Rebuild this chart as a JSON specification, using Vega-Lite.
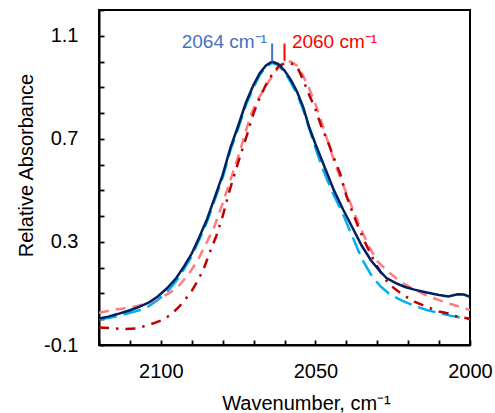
{
  "$schema": "https://vega.github.io/schema/vega-lite/v6.json",
  "width": 371,
  "height": 335,
  "autosize": "none",
  "padding": {"left": 99, "top": 10, "right": 25, "bottom": 68},
  "config": {
    "font": "Liberation Sans",
    "view": {"stroke": "black", "strokeWidth": 2},
    "axis": {
      "grid": false,
      "domainColor": "black",
      "domainWidth": 2,
      "tickColor": "black",
      "tickWidth": 1.8,
      "tickOpacity": 1,
      "labelColor": "black",
      "labelFontSize": 20,
      "titleColor": "black",
      "titleFontSize": 20,
      "titleFontWeight": "normal"
    }
  },
  "resolve": {"axis": {"x": "independent", "y": "independent"}},
  "datasets": {
    "spectra": [
      {"series": "L", "w": 2120, "v": 0.0}, {"series": "L", "w": 2117, "v": 0.005}, {"series": "L", "w": 2114, "v": 0.012}, {"series": "L", "w": 2110, "v": 0.025}, {"series": "L", "w": 2107, "v": 0.035}, {"series": "L", "w": 2104, "v": 0.05}, {"series": "L", "w": 2101, "v": 0.075}, {"series": "L", "w": 2098, "v": 0.105}, {"series": "L", "w": 2095, "v": 0.148}, {"series": "L", "w": 2092.5, "v": 0.195}, {"series": "L", "w": 2090, "v": 0.245}, {"series": "L", "w": 2087.5, "v": 0.31}, {"series": "L", "w": 2085, "v": 0.38}, {"series": "L", "w": 2082.5, "v": 0.465}, {"series": "L", "w": 2080, "v": 0.55}, {"series": "L", "w": 2077.5, "v": 0.655}, {"series": "L", "w": 2075, "v": 0.74}, {"series": "L", "w": 2072.5, "v": 0.83}, {"series": "L", "w": 2070, "v": 0.9}, {"series": "L", "w": 2068, "v": 0.948}, {"series": "L", "w": 2066, "v": 0.98}, {"series": "L", "w": 2064, "v": 0.995}, {"series": "L", "w": 2062, "v": 0.985}, {"series": "L", "w": 2060, "v": 0.96}, {"series": "L", "w": 2058, "v": 0.92}, {"series": "L", "w": 2056, "v": 0.875}, {"series": "L", "w": 2054, "v": 0.815}, {"series": "L", "w": 2052, "v": 0.74}, {"series": "L", "w": 2050, "v": 0.665}, {"series": "L", "w": 2048, "v": 0.595}, {"series": "L", "w": 2046, "v": 0.535}, {"series": "L", "w": 2044, "v": 0.48}, {"series": "L", "w": 2041, "v": 0.405}, {"series": "L", "w": 2038, "v": 0.32}, {"series": "L", "w": 2035, "v": 0.235}, {"series": "L", "w": 2032, "v": 0.172}, {"series": "L", "w": 2029, "v": 0.128}, {"series": "L", "w": 2026, "v": 0.097}, {"series": "L", "w": 2022, "v": 0.072}, {"series": "L", "w": 2018, "v": 0.052}, {"series": "L", "w": 2014, "v": 0.036}, {"series": "L", "w": 2010, "v": 0.024}, {"series": "L", "w": 2006, "v": 0.013}, {"series": "L", "w": 2003, "v": 0.006}, {"series": "L", "w": 2000, "v": 0.0},

      {"series": "S", "w": 2120, "v": 0.025}, {"series": "S", "w": 2116, "v": 0.035}, {"series": "S", "w": 2112, "v": 0.042}, {"series": "S", "w": 2108, "v": 0.05}, {"series": "S", "w": 2104, "v": 0.065}, {"series": "S", "w": 2100, "v": 0.084}, {"series": "S", "w": 2097, "v": 0.103}, {"series": "S", "w": 2094, "v": 0.132}, {"series": "S", "w": 2091, "v": 0.175}, {"series": "S", "w": 2088, "v": 0.23}, {"series": "S", "w": 2085.5, "v": 0.29}, {"series": "S", "w": 2083, "v": 0.35}, {"series": "S", "w": 2080, "v": 0.45}, {"series": "S", "w": 2077.5, "v": 0.54}, {"series": "S", "w": 2075, "v": 0.63}, {"series": "S", "w": 2073, "v": 0.71}, {"series": "S", "w": 2071, "v": 0.79}, {"series": "S", "w": 2069, "v": 0.845}, {"series": "S", "w": 2067, "v": 0.885}, {"series": "S", "w": 2065, "v": 0.925}, {"series": "S", "w": 2063, "v": 0.958}, {"series": "S", "w": 2061.5, "v": 0.985}, {"series": "S", "w": 2060, "v": 0.998}, {"series": "S", "w": 2058, "v": 1.0}, {"series": "S", "w": 2056, "v": 0.985}, {"series": "S", "w": 2054, "v": 0.945}, {"series": "S", "w": 2052, "v": 0.895}, {"series": "S", "w": 2050, "v": 0.835}, {"series": "S", "w": 2048, "v": 0.765}, {"series": "S", "w": 2046, "v": 0.69}, {"series": "S", "w": 2044, "v": 0.615}, {"series": "S", "w": 2042, "v": 0.55}, {"series": "S", "w": 2039, "v": 0.46}, {"series": "S", "w": 2036, "v": 0.37}, {"series": "S", "w": 2033, "v": 0.29}, {"series": "S", "w": 2030, "v": 0.225}, {"series": "S", "w": 2027, "v": 0.19}, {"series": "S", "w": 2024, "v": 0.16}, {"series": "S", "w": 2021, "v": 0.135}, {"series": "S", "w": 2018, "v": 0.115}, {"series": "S", "w": 2014, "v": 0.092}, {"series": "S", "w": 2010, "v": 0.074}, {"series": "S", "w": 2006, "v": 0.058}, {"series": "S", "w": 2003, "v": 0.047}, {"series": "S", "w": 2000, "v": 0.036},

      {"series": "D", "w": 2120, "v": -0.032}, {"series": "D", "w": 2116, "v": -0.035}, {"series": "D", "w": 2112, "v": -0.038}, {"series": "D", "w": 2108, "v": -0.036}, {"series": "D", "w": 2105, "v": -0.026}, {"series": "D", "w": 2102, "v": -0.014}, {"series": "D", "w": 2100, "v": -0.005}, {"series": "D", "w": 2098, "v": 0.008}, {"series": "D", "w": 2096, "v": 0.026}, {"series": "D", "w": 2094, "v": 0.05}, {"series": "D", "w": 2092, "v": 0.078}, {"series": "D", "w": 2090, "v": 0.11}, {"series": "D", "w": 2088, "v": 0.15}, {"series": "D", "w": 2086, "v": 0.2}, {"series": "D", "w": 2084, "v": 0.265}, {"series": "D", "w": 2082, "v": 0.325}, {"series": "D", "w": 2080, "v": 0.4}, {"series": "D", "w": 2078, "v": 0.49}, {"series": "D", "w": 2076, "v": 0.57}, {"series": "D", "w": 2074, "v": 0.645}, {"series": "D", "w": 2072, "v": 0.72}, {"series": "D", "w": 2070, "v": 0.8}, {"series": "D", "w": 2068, "v": 0.86}, {"series": "D", "w": 2066, "v": 0.91}, {"series": "D", "w": 2064, "v": 0.95}, {"series": "D", "w": 2062, "v": 0.98}, {"series": "D", "w": 2060, "v": 0.993}, {"series": "D", "w": 2058, "v": 0.993}, {"series": "D", "w": 2056, "v": 0.982}, {"series": "D", "w": 2054, "v": 0.93}, {"series": "D", "w": 2052, "v": 0.87}, {"series": "D", "w": 2050, "v": 0.815}, {"series": "D", "w": 2048, "v": 0.745}, {"series": "D", "w": 2046, "v": 0.69}, {"series": "D", "w": 2044, "v": 0.625}, {"series": "D", "w": 2042, "v": 0.565}, {"series": "D", "w": 2040, "v": 0.48}, {"series": "D", "w": 2038, "v": 0.415}, {"series": "D", "w": 2036, "v": 0.355}, {"series": "D", "w": 2034, "v": 0.3}, {"series": "D", "w": 2032, "v": 0.25}, {"series": "D", "w": 2030, "v": 0.205}, {"series": "D", "w": 2028, "v": 0.165}, {"series": "D", "w": 2026, "v": 0.135}, {"series": "D", "w": 2024, "v": 0.115}, {"series": "D", "w": 2022, "v": 0.097}, {"series": "D", "w": 2018, "v": 0.068}, {"series": "D", "w": 2014, "v": 0.048}, {"series": "D", "w": 2010, "v": 0.03}, {"series": "D", "w": 2007, "v": 0.022}, {"series": "D", "w": 2005, "v": 0.013}, {"series": "D", "w": 2002, "v": 0.006}, {"series": "D", "w": 2000, "v": 0.002},

      {"series": "N", "w": 2120, "v": 0.003}, {"series": "N", "w": 2117, "v": 0.01}, {"series": "N", "w": 2114, "v": 0.02}, {"series": "N", "w": 2110, "v": 0.035}, {"series": "N", "w": 2107, "v": 0.048}, {"series": "N", "w": 2104, "v": 0.064}, {"series": "N", "w": 2101, "v": 0.088}, {"series": "N", "w": 2098, "v": 0.12}, {"series": "N", "w": 2095, "v": 0.16}, {"series": "N", "w": 2092.5, "v": 0.205}, {"series": "N", "w": 2090, "v": 0.255}, {"series": "N", "w": 2087.5, "v": 0.32}, {"series": "N", "w": 2085, "v": 0.39}, {"series": "N", "w": 2082.5, "v": 0.475}, {"series": "N", "w": 2080, "v": 0.56}, {"series": "N", "w": 2077.5, "v": 0.665}, {"series": "N", "w": 2075, "v": 0.75}, {"series": "N", "w": 2072.5, "v": 0.84}, {"series": "N", "w": 2070, "v": 0.91}, {"series": "N", "w": 2068, "v": 0.955}, {"series": "N", "w": 2066, "v": 0.985}, {"series": "N", "w": 2064, "v": 1.0}, {"series": "N", "w": 2062, "v": 0.99}, {"series": "N", "w": 2060, "v": 0.965}, {"series": "N", "w": 2058, "v": 0.93}, {"series": "N", "w": 2056, "v": 0.885}, {"series": "N", "w": 2054, "v": 0.825}, {"series": "N", "w": 2052, "v": 0.745}, {"series": "N", "w": 2050, "v": 0.68}, {"series": "N", "w": 2048, "v": 0.62}, {"series": "N", "w": 2046, "v": 0.56}, {"series": "N", "w": 2044, "v": 0.5}, {"series": "N", "w": 2041, "v": 0.425}, {"series": "N", "w": 2038, "v": 0.355}, {"series": "N", "w": 2035, "v": 0.285}, {"series": "N", "w": 2032, "v": 0.228}, {"series": "N", "w": 2029, "v": 0.185}, {"series": "N", "w": 2027, "v": 0.16}, {"series": "N", "w": 2024, "v": 0.14}, {"series": "N", "w": 2021, "v": 0.125}, {"series": "N", "w": 2018, "v": 0.115}, {"series": "N", "w": 2014, "v": 0.104}, {"series": "N", "w": 2010, "v": 0.094}, {"series": "N", "w": 2007, "v": 0.088}, {"series": "N", "w": 2004, "v": 0.097}, {"series": "N", "w": 2002, "v": 0.096}, {"series": "N", "w": 2000, "v": 0.087}
    ],
    "peaks": [
      {"peak": "blue", "w": 2064, "v1": 0.999, "v2": 1.07, "tw": 2065.7, "tv": 1.052, "label": "2064 cm⁻¹"},
      {"peak": "red", "w": 2060, "v1": 1.003, "v2": 1.07, "tw": 2057.6, "tv": 1.052, "label": "2060 cm⁻¹"}
    ]
  },
  "layer": [
    {
      "data": {"name": "spectra"},
      "transform": [{"filter": "datum.series === 'L'"}],
      "mark": {"type": "line", "color": "#00B0F0", "strokeWidth": 2.5, "strokeDash": [18, 7], "clip": true},
      "encoding": {
        "x": {
          "field": "w", "type": "quantitative",
          "scale": {"domain": [2000, 2120], "reverse": true, "nice": false, "zero": false},
          "axis": {
            "orient": "bottom",
            "values": [2000, 2050, 2100],
            "format": "d",
            "labelOverlap": false,
            "labelFlush": false,
            "ticks": false,
            "labelPadding": 16,
            "title": "Wavenumber, cm⁻¹",
            "titleX": 207,
            "titleY": 64,
            "titleBaseline": "alphabetic"
          }
        },
        "y": {
          "field": "v", "type": "quantitative",
          "scale": {"domain": [-0.1, 1.2], "nice": false, "zero": false},
          "axis": {
            "orient": "left",
            "values": [-0.1, 0.3, 0.7, 1.1],
            "labelExpr": "(datum.value < 0 ? '-' : '') + format(abs(datum.value), '.1f')",
            "labelOverlap": false,
            "labelFlush": false,
            "ticks": false,
            "labelPadding": 21,
            "title": "Relative Absorbance",
            "titleX": -67,
            "titleY": 155,
            "titleBaseline": "alphabetic"
          }
        }
      }
    },
    {
      "data": {"name": "spectra"},
      "transform": [{"filter": "datum.series === 'S'"}],
      "mark": {"type": "line", "color": "#FF7C80", "strokeWidth": 2.5, "strokeDash": [10, 7], "clip": true},
      "encoding": {
        "x": {
          "field": "w", "type": "quantitative",
          "axis": {
            "orient": "top",
            "offset": -335,
            "values": [2000, 2010, 2020, 2030, 2040, 2050, 2060, 2070, 2080, 2090, 2100, 2110, 2120],
            "labels": false,
            "domain": false,
            "ticks": true,
            "tickSize": 5,
            "tickColor": "black",
            "title": null
          }
        },
        "y": {
          "field": "v", "type": "quantitative",
          "axis": {
            "orient": "right",
            "offset": -371,
            "values": [-0.1, 0, 0.1, 0.2, 0.3, 0.4, 0.5, 0.6, 0.7, 0.8, 0.9, 1.0, 1.1, 1.2],
            "labels": false,
            "domain": false,
            "ticks": true,
            "tickSize": 5,
            "tickColor": "black",
            "title": null
          }
        }
      }
    },
    {
      "data": {"name": "spectra"},
      "transform": [{"filter": "datum.series === 'D'"}],
      "mark": {"type": "line", "color": "#C00000", "strokeWidth": 2.5, "strokeDash": [10, 7, 2.5, 7], "clip": true},
      "encoding": {"x": {"field": "w", "type": "quantitative", "axis": null}, "y": {"field": "v", "type": "quantitative", "axis": null}}
    },
    {
      "data": {"name": "spectra"},
      "transform": [{"filter": "datum.series === 'N'"}],
      "mark": {"type": "line", "color": "#002060", "strokeWidth": 2.5, "clip": true},
      "encoding": {"x": {"field": "w", "type": "quantitative", "axis": null}, "y": {"field": "v", "type": "quantitative", "axis": null}}
    },
    {
      "data": {"name": "peaks"},
      "mark": {"type": "rule", "strokeWidth": 2},
      "encoding": {
        "x": {"field": "w", "type": "quantitative", "axis": null},
        "y": {"field": "v1", "type": "quantitative", "axis": null},
        "y2": {"field": "v2"},
        "color": {"field": "peak", "type": "nominal", "scale": {"domain": ["blue", "red"], "range": ["#4472C4", "#FF0000"]}, "legend": null}
      }
    },
    {
      "data": {"name": "peaks"},
      "transform": [{"filter": "datum.peak === 'blue'"}],
      "mark": {"type": "text", "align": "right", "baseline": "alphabetic", "fontSize": 19, "color": "#4472C4"},
      "encoding": {
        "x": {"field": "tw", "type": "quantitative", "axis": null},
        "y": {"field": "tv", "type": "quantitative", "axis": null},
        "text": {"field": "label"}
      }
    },
    {
      "data": {"name": "peaks"},
      "transform": [{"filter": "datum.peak === 'red'"}],
      "mark": {"type": "text", "align": "left", "baseline": "alphabetic", "fontSize": 19, "color": "#FF0000"},
      "encoding": {
        "x": {"field": "tw", "type": "quantitative", "axis": null},
        "y": {"field": "tv", "type": "quantitative", "axis": null},
        "text": {"field": "label"}
      }
    }
  ]
}
